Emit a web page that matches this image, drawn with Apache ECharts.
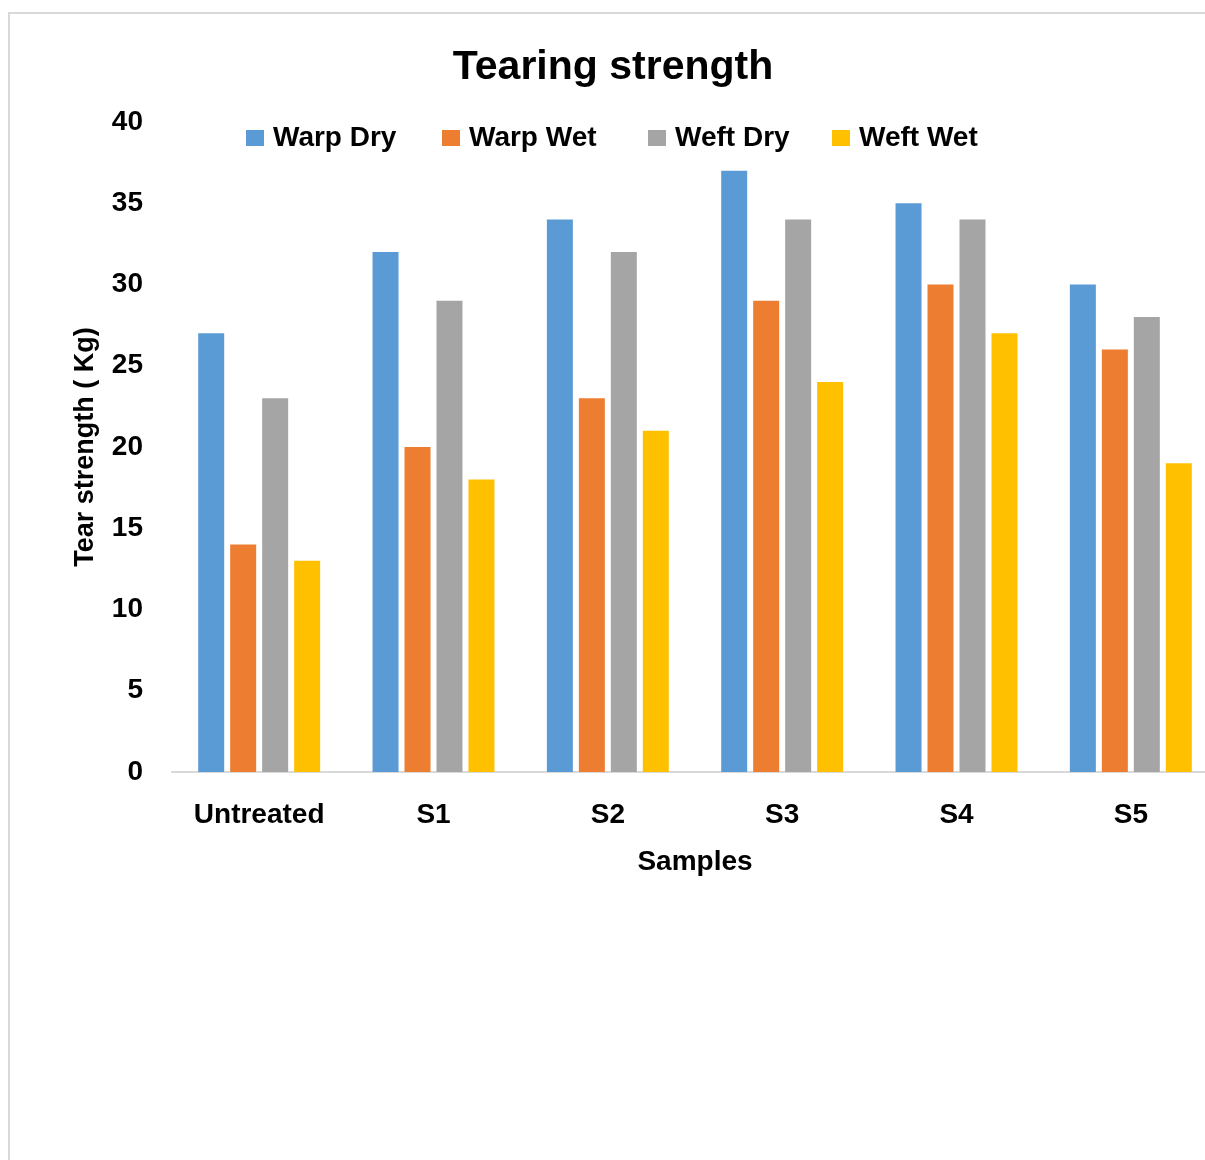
<!DOCTYPE html>
<html><head><meta charset="utf-8">
<script src="https://cdn.jsdelivr.net/npm/echarts@6/dist/echarts.min.js"></script>
<style>html,body{margin:0;padding:0;background:#fff;overflow:hidden}#c{width:1225px;height:1160px}</style>
</head><body><div id="c"></div>
<script>
const categories = ['Untreated','S1','S2','S3','S4','S5'];
const warpDry = [27,32,34,37,35,30];
const warpWet = [14,20,23,29,30,26];
const weftDry = [23,29,32,34,34,28];
const weftWet = [13,18,21,24,27,19];
const seriesNames = ['Warp Dry','Warp Wet','Weft Dry','Weft Wet'];
const colors = ['#5B9BD5','#ED7D31','#A5A5A5','#FFC000'];
const yTicks = [0,5,10,15,20,25,30,35,40];

const FONT = '"Liberation Sans", Arial, sans-serif';
const chart = echarts.init(document.getElementById('c'), null, {renderer:'canvas'});
const values = [warpDry, warpWet, weftDry, weftWet];
const legendLefts = [246, 442, 648, 832];
chart.setOption({
  animation:false,
  color: colors,
  graphic:[{type:'rect', shape:{x:9,y:13,width:1400,height:1400}, style:{fill:'none',stroke:'#d9d9d9',lineWidth:2}, silent:true}],
  title:{text:'Tearing strength', left:608, textAlign:'center', top:42,
    textStyle:{fontFamily:FONT, fontWeight:'bold', fontSize:41, color:'#000'}},
  legend: seriesNames.map((n,i)=>({data:[n], top:124, left:legendLefts[i], padding:0, itemWidth:18, itemHeight:16,
    icon:'rect', textStyle:{fontFamily:FONT, fontWeight:'bold', fontSize:28, color:'#000', padding:[0,0,0,4]}})),
  grid:{left:172, top:122, width:1046, height:650, containLabel:false},
  xAxis:{type:'category', data:categories,
    axisLine:{lineStyle:{color:'#d9d9d9', width:2}}, axisTick:{show:false},
    axisLabel:{fontFamily:FONT, fontWeight:'bold', fontSize:28, color:'#000', margin:29},
    name:'Samples', nameLocation:'middle', nameGap:76,
    nameTextStyle:{fontFamily:FONT, fontWeight:'bold', fontSize:28, color:'#000'}},
  yAxis:{type:'value', min:yTicks[0], max:yTicks[yTicks.length-1], interval:5,
    axisLine:{show:false}, axisTick:{show:false}, splitLine:{show:false},
    axisLabel:{fontFamily:FONT, fontWeight:'bold', fontSize:28, color:'#000', margin:29},
    name:'Tear strength ( Kg)', nameLocation:'middle', nameGap:73, nameRotate:90,
    nameTextStyle:{fontFamily:FONT, fontWeight:'bold', fontSize:27, color:'#000'}},
  series: seriesNames.map((n,i)=>({name:n, type:'bar', data:values[i], barWidth:26, barGap:'23%',
    itemStyle:{color:colors[i]}}))
});
</script></body></html>
